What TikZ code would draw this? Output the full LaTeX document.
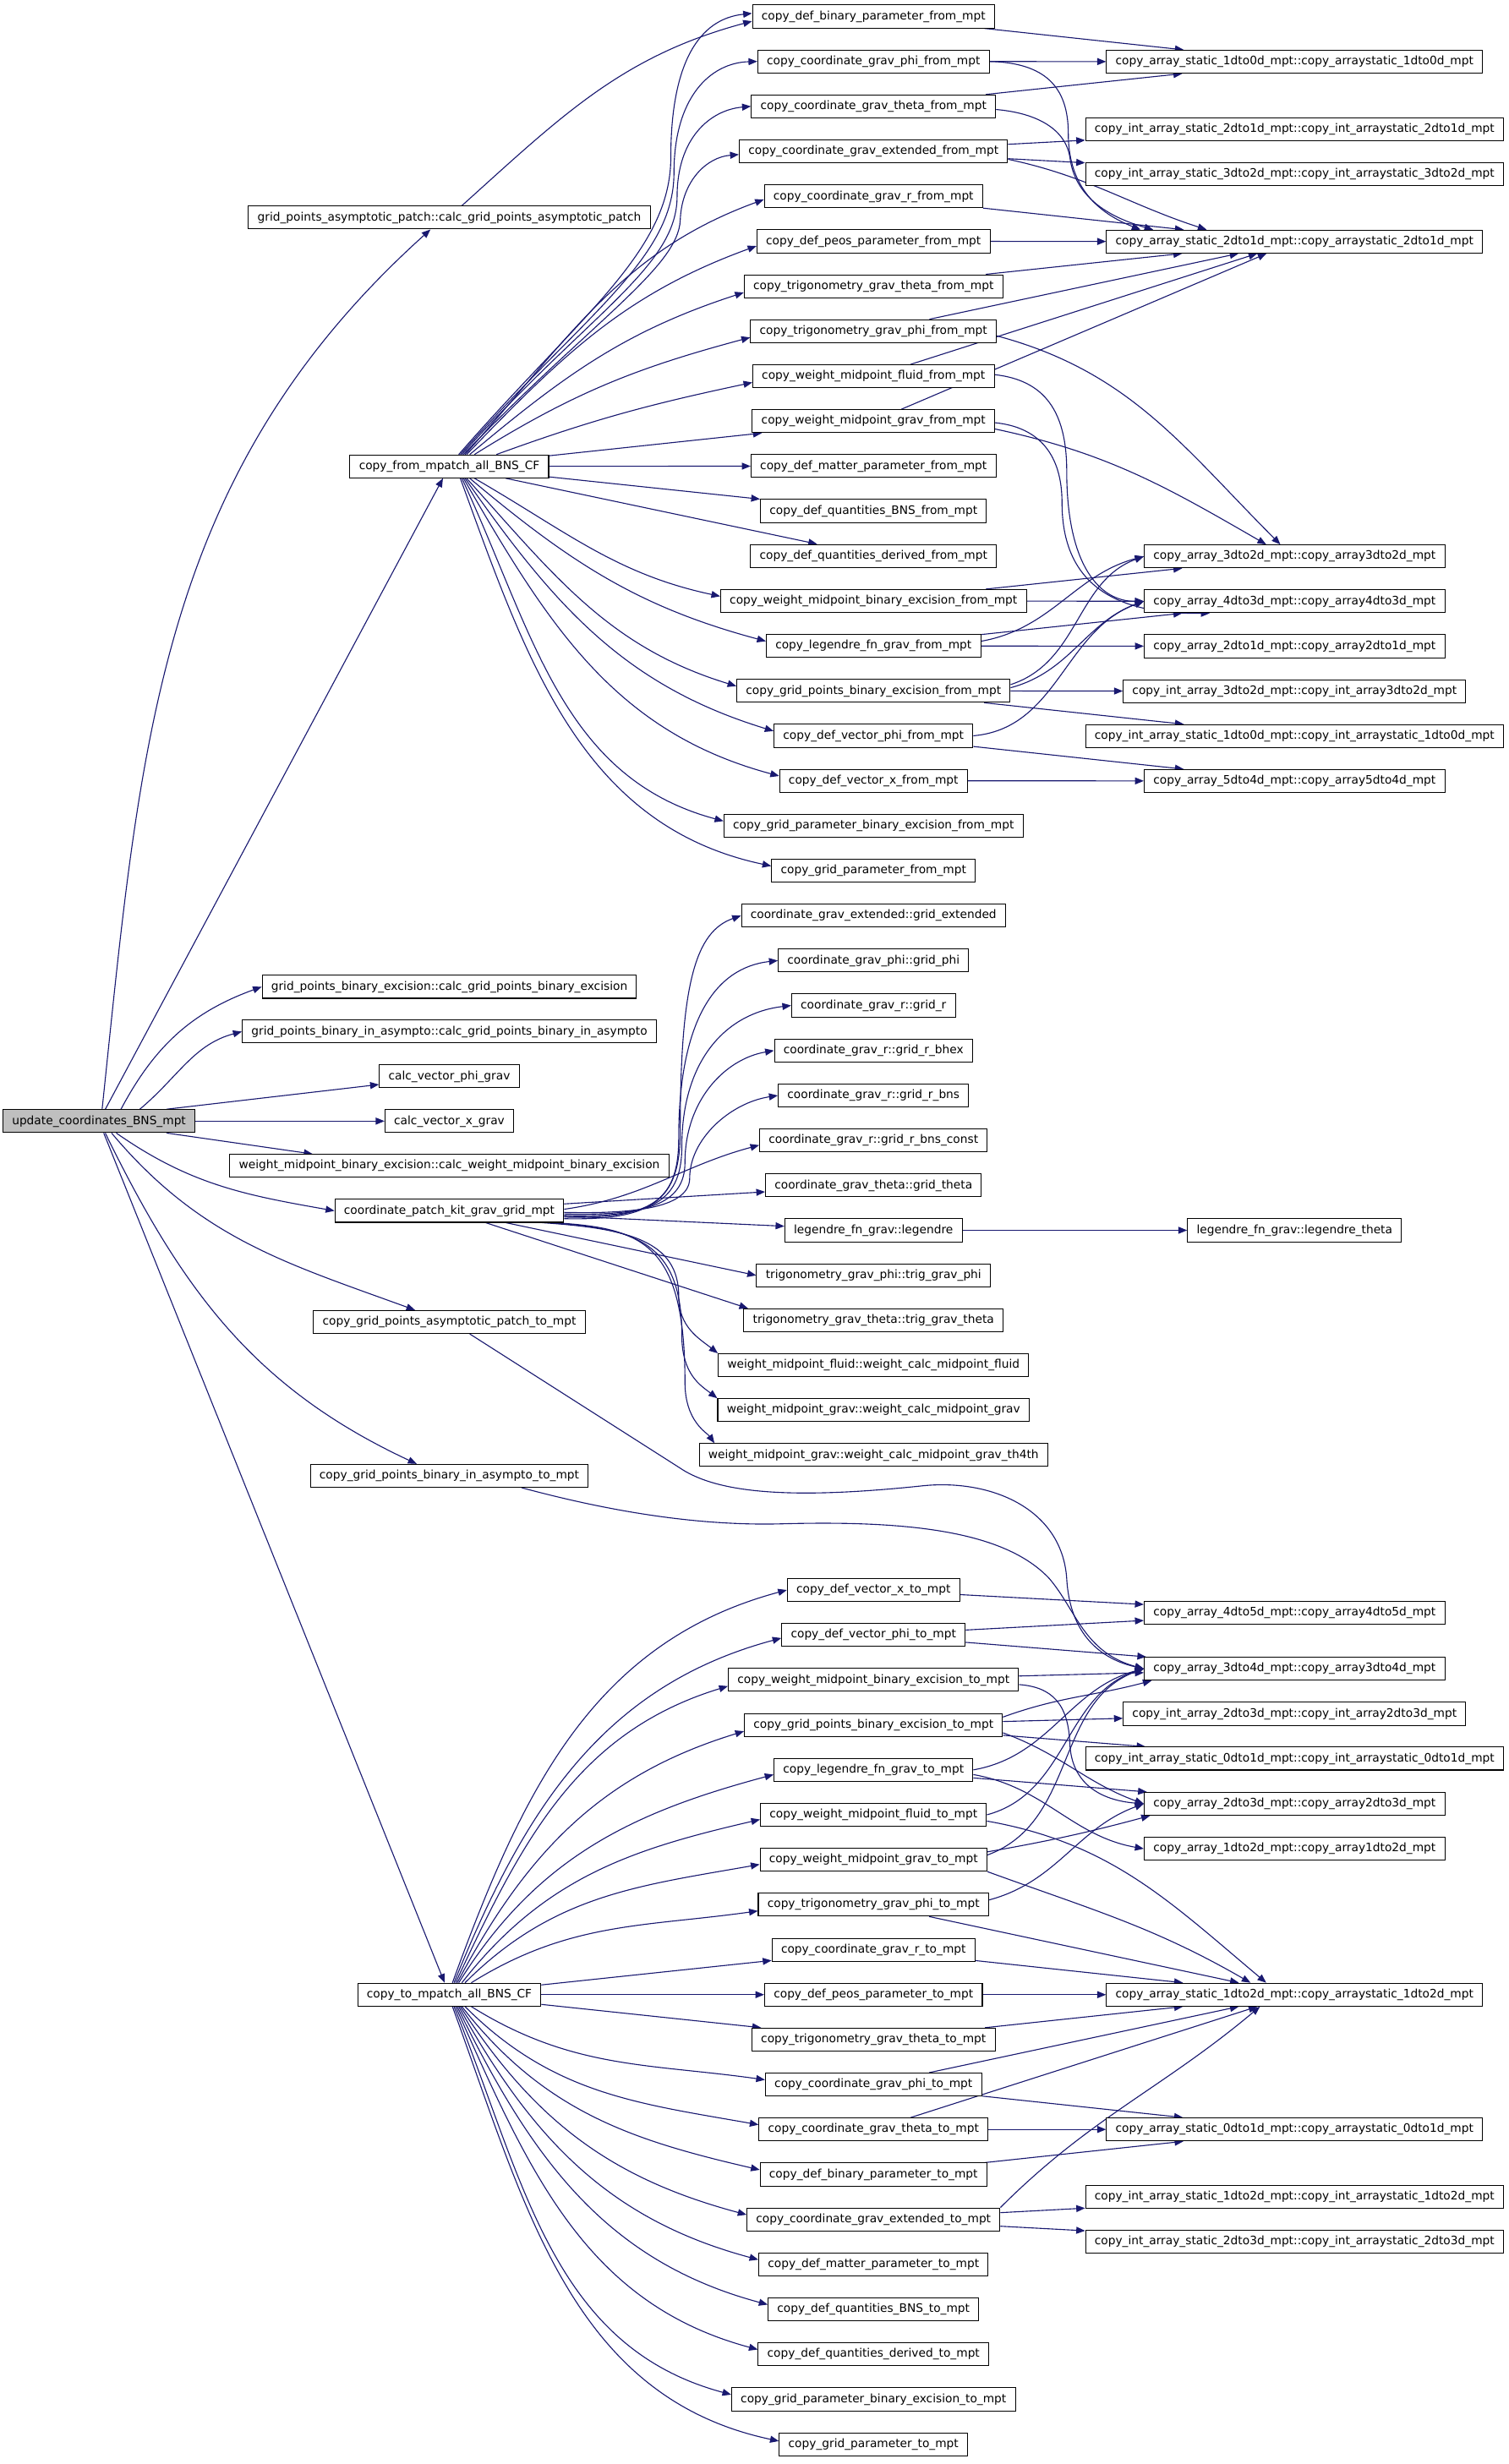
\documentclass[tikz,border=0pt]{standalone}
\usepackage{fontspec}
\setmainfont{DejaVu Sans}
\usetikzlibrary{arrows.meta}
\definecolor{edgec}{HTML}{191970}
\definecolor{rootf}{HTML}{BFBFBF}
\pgfdeclarelayer{bg}
\pgfsetlayers{bg,main}
\begin{document}
\begin{tikzpicture}[x=1pt,y=1pt,
  nd/.style={draw=black, line width=0.55pt, fill=white, inner xsep=5.8pt, inner ysep=0pt,
    minimum height=14.6pt, text height=5.6pt, text depth=1.6pt, font=\fontsize{7.4}{8}\selectfont},
  ed/.style={draw=edgec, line width=0.6pt, -{Triangle[length=5.6pt,width=4.4pt]}}]
\useasboundingbox (0,0) rectangle (960,-1568.6);

% root and column 2
\node[nd, fill=rootf] (r) at (63,-713.7) {update\_coordinates\_BNS\_mpt};
\node[nd] (asym) at (286,-138.5) {grid\_points\_asymptotic\_patch::calc\_grid\_points\_asymptotic\_patch};
\node[nd] (cf) at (286,-296.9) {copy\_from\_mpatch\_all\_BNS\_CF};
\node[nd] (gbe) at (286,-628.2) {grid\_points\_binary\_excision::calc\_grid\_points\_binary\_excision};
\node[nd] (gbia) at (286,-656.7) {grid\_points\_binary\_in\_asympto::calc\_grid\_points\_binary\_in\_asympto};
\node[nd] (cvphi) at (286,-685.2) {calc\_vector\_phi\_grav};
\node[nd] (cvx) at (286,-713.7) {calc\_vector\_x\_grav};
\node[nd] (wmbe) at (286,-742.2) {weight\_midpoint\_binary\_excision::calc\_weight\_midpoint\_binary\_excision};
\node[nd] (cpk) at (286,-770.8) {coordinate\_patch\_kit\_grav\_grid\_mpt};
\node[nd] (cga) at (286,-841.6) {copy\_grid\_points\_asymptotic\_patch\_to\_mpt};
\node[nd] (cgb) at (286,-939.5) {copy\_grid\_points\_binary\_in\_asympto\_to\_mpt};
\node[nd] (ct) at (286,-1269.8) {copy\_to\_mpatch\_all\_BNS\_CF};

% column 3 (from)
\node[nd] (f1) at (556,-10.5) {copy\_def\_binary\_parameter\_from\_mpt};
\node[nd] (f2) at (556,-39.1) {copy\_coordinate\_grav\_phi\_from\_mpt};
\node[nd] (f3) at (556,-67.7) {copy\_coordinate\_grav\_theta\_from\_mpt};
\node[nd] (f4) at (556,-96.4) {copy\_coordinate\_grav\_extended\_from\_mpt};
\node[nd] (f5) at (556,-125.0) {copy\_coordinate\_grav\_r\_from\_mpt};
\node[nd] (f6) at (556,-153.6) {copy\_def\_peos\_parameter\_from\_mpt};
\node[nd] (f7) at (556,-182.2) {copy\_trigonometry\_grav\_theta\_from\_mpt};
\node[nd] (f8) at (556,-210.8) {copy\_trigonometry\_grav\_phi\_from\_mpt};
\node[nd] (f9) at (556,-239.5) {copy\_weight\_midpoint\_fluid\_from\_mpt};
\node[nd] (f10) at (556,-268.1) {copy\_weight\_midpoint\_grav\_from\_mpt};
\node[nd] (f11) at (556,-296.7) {copy\_def\_matter\_parameter\_from\_mpt};
\node[nd] (f12) at (556,-325.3) {copy\_def\_quantities\_BNS\_from\_mpt};
\node[nd] (f13) at (556,-353.9) {copy\_def\_quantities\_derived\_from\_mpt};
\node[nd] (f14) at (556,-382.6) {copy\_weight\_midpoint\_binary\_excision\_from\_mpt};
\node[nd] (f15) at (556,-411.2) {copy\_legendre\_fn\_grav\_from\_mpt};
\node[nd] (f16) at (556,-439.8) {copy\_grid\_points\_binary\_excision\_from\_mpt};
\node[nd] (f17) at (556,-468.4) {copy\_def\_vector\_phi\_from\_mpt};
\node[nd] (f18) at (556,-497.0) {copy\_def\_vector\_x\_from\_mpt};
\node[nd] (f19) at (556,-525.7) {copy\_grid\_parameter\_binary\_excision\_from\_mpt};
\node[nd] (f20) at (556,-554.3) {copy\_grid\_parameter\_from\_mpt};

% column 3 (coordinate patch kit)
\node[nd] (g1) at (556,-582.9) {coordinate\_grav\_extended::grid\_extended};
\node[nd] (g2) at (556,-611.5) {coordinate\_grav\_phi::grid\_phi};
\node[nd] (g3) at (556,-640.1) {coordinate\_grav\_r::grid\_r};
\node[nd] (g4) at (556,-668.8) {coordinate\_grav\_r::grid\_r\_bhex};
\node[nd] (g5) at (556,-697.4) {coordinate\_grav\_r::grid\_r\_bns};
\node[nd] (g6) at (556,-726.0) {coordinate\_grav\_r::grid\_r\_bns\_const};
\node[nd] (g7) at (556,-754.6) {coordinate\_grav\_theta::grid\_theta};
\node[nd] (g8) at (556,-783.2) {legendre\_fn\_grav::legendre};
\node[nd] (g9) at (556,-811.9) {trigonometry\_grav\_phi::trig\_grav\_phi};
\node[nd] (g10) at (556,-840.5) {trigonometry\_grav\_theta::trig\_grav\_theta};
\node[nd] (g11) at (556,-869.1) {weight\_midpoint\_fluid::weight\_calc\_midpoint\_fluid};
\node[nd] (g12) at (556,-897.7) {weight\_midpoint\_grav::weight\_calc\_midpoint\_grav};
\node[nd] (g13) at (556,-926.3) {weight\_midpoint\_grav::weight\_calc\_midpoint\_grav\_th4th};

% column 3 (to)
\node[nd] (t1) at (556,-1012.2) {copy\_def\_vector\_x\_to\_mpt};
\node[nd] (t2) at (556,-1040.8) {copy\_def\_vector\_phi\_to\_mpt};
\node[nd] (t3) at (556,-1069.4) {copy\_weight\_midpoint\_binary\_excision\_to\_mpt};
\node[nd] (t4) at (556,-1098.1) {copy\_grid\_points\_binary\_excision\_to\_mpt};
\node[nd] (t5) at (556,-1126.7) {copy\_legendre\_fn\_grav\_to\_mpt};
\node[nd] (t6) at (556,-1155.3) {copy\_weight\_midpoint\_fluid\_to\_mpt};
\node[nd] (t7) at (556,-1183.9) {copy\_weight\_midpoint\_grav\_to\_mpt};
\node[nd] (t8) at (556,-1212.5) {copy\_trigonometry\_grav\_phi\_to\_mpt};
\node[nd] (t9) at (556,-1241.2) {copy\_coordinate\_grav\_r\_to\_mpt};
\node[nd] (t10) at (556,-1269.8) {copy\_def\_peos\_parameter\_to\_mpt};
\node[nd] (t11) at (556,-1298.4) {copy\_trigonometry\_grav\_theta\_to\_mpt};
\node[nd] (t12) at (556,-1327.0) {copy\_coordinate\_grav\_phi\_to\_mpt};
\node[nd] (t13) at (556,-1355.6) {copy\_coordinate\_grav\_theta\_to\_mpt};
\node[nd] (t14) at (556,-1384.3) {copy\_def\_binary\_parameter\_to\_mpt};
\node[nd] (t15) at (556,-1412.9) {copy\_coordinate\_grav\_extended\_to\_mpt};
\node[nd] (t16) at (556,-1441.5) {copy\_def\_matter\_parameter\_to\_mpt};
\node[nd] (t17) at (556,-1470.1) {copy\_def\_quantities\_BNS\_to\_mpt};
\node[nd] (t18) at (556,-1498.7) {copy\_def\_quantities\_derived\_to\_mpt};
\node[nd] (t19) at (556,-1527.4) {copy\_grid\_parameter\_binary\_excision\_to\_mpt};
\node[nd] (t20) at (556,-1556.0) {copy\_grid\_parameter\_to\_mpt};

% column 4
\node[nd] (s1d0) at (824,-39.3) {copy\_array\_static\_1dto0d\_mpt::copy\_arraystatic\_1dto0d\_mpt};
\node[nd] (is2d1) at (824,-82.2) {copy\_int\_array\_static\_2dto1d\_mpt::copy\_int\_arraystatic\_2dto1d\_mpt};
\node[nd] (is3d2) at (824,-110.8) {copy\_int\_array\_static\_3dto2d\_mpt::copy\_int\_arraystatic\_3dto2d\_mpt};
\node[nd] (s2d1) at (824,-153.8) {copy\_array\_static\_2dto1d\_mpt::copy\_arraystatic\_2dto1d\_mpt};
\node[nd] (a3d2) at (824,-354.2) {copy\_array\_3dto2d\_mpt::copy\_array3dto2d\_mpt};
\node[nd] (a4d3) at (824,-382.8) {copy\_array\_4dto3d\_mpt::copy\_array4dto3d\_mpt};
\node[nd] (a2d1) at (824,-411.4) {copy\_array\_2dto1d\_mpt::copy\_array2dto1d\_mpt};
\node[nd] (ia3d2) at (824,-440.0) {copy\_int\_array\_3dto2d\_mpt::copy\_int\_array3dto2d\_mpt};
\node[nd] (is1d0) at (824,-468.6) {copy\_int\_array\_static\_1dto0d\_mpt::copy\_int\_arraystatic\_1dto0d\_mpt};
\node[nd] (a5d4) at (824,-497.2) {copy\_array\_5dto4d\_mpt::copy\_array5dto4d\_mpt};
\node[nd] (lt) at (824,-783.2) {legendre\_fn\_grav::legendre\_theta};
\node[nd] (a45) at (824,-1026.5) {copy\_array\_4dto5d\_mpt::copy\_array4dto5d\_mpt};
\node[nd] (a34) at (824,-1062.3) {copy\_array\_3dto4d\_mpt::copy\_array3dto4d\_mpt};
\node[nd] (ia23) at (824,-1091.0) {copy\_int\_array\_2dto3d\_mpt::copy\_int\_array2dto3d\_mpt};
\node[nd] (is01) at (824,-1119.5) {copy\_int\_array\_static\_0dto1d\_mpt::copy\_int\_arraystatic\_0dto1d\_mpt};
\node[nd] (a23) at (824,-1148.3) {copy\_array\_2dto3d\_mpt::copy\_array2dto3d\_mpt};
\node[nd] (a12) at (824,-1176.9) {copy\_array\_1dto2d\_mpt::copy\_array1dto2d\_mpt};
\node[nd] (s12) at (824,-1269.8) {copy\_array\_static\_1dto2d\_mpt::copy\_arraystatic\_1dto2d\_mpt};
\node[nd] (s01) at (824,-1355.6) {copy\_array\_static\_0dto1d\_mpt::copy\_arraystatic\_0dto1d\_mpt};
\node[nd] (is12) at (824,-1398.6) {copy\_int\_array\_static\_1dto2d\_mpt::copy\_int\_arraystatic\_1dto2d\_mpt};
\node[nd] (is23) at (824,-1427.2) {copy\_int\_array\_static\_2dto3d\_mpt::copy\_int\_arraystatic\_2dto3d\_mpt};

\begin{pgfonlayer}{bg}
% root edges
\draw[ed] ([xshift=2pt]r.north) to[out=84,in=222] ([xshift=-12pt]asym.south);
\draw[ed] (r) -- (cf);
\draw[ed] ([xshift=14pt]r.north) to[out=62,in=200] (gbe.west);
\draw[ed] ([xshift=26pt]r.north) to[out=40,in=195] (gbia.west);
\draw[ed] ([xshift=43pt]r.north) -- (cvphi);
\draw[ed] (r) -- (cvx);
\draw[ed] ([xshift=43pt]r.south) -- ([xshift=53pt]wmbe.north west);
\draw[ed] ([xshift=11pt]r.south) to[out=-35,in=170] (cpk.west);
\draw[ed] ([xshift=8pt]r.south) to[out=-50,in=160] ([xshift=65pt]cga.north west);
\draw[ed] ([xshift=4pt]r.south) to[out=-64,in=155] ([xshift=68pt]cgb.north west);
\draw[ed] (r) -- (ct);

% asym
\draw[ed] ([xshift=8pt]asym.north) to[out=42,in=195] ([yshift=-3pt]f1.west);

% copy_from fan
\draw[ed] ([xshift=6pt]cf.north) .. controls (370,-200) and (427,-160) .. (427,-100) .. controls (427,-40) and (445,-12) .. ([yshift=2pt]f1.west);
\draw[ed] ([xshift=7pt]cf.north) .. controls (372,-200) and (429,-165) .. (429,-110) .. controls (429,-62) and (452,-40) .. (f2.west);
\draw[ed] ([xshift=8pt]cf.north) .. controls (374,-200) and (431,-170) .. (431,-125) .. controls (431,-88) and (452,-70) .. (f3.west);
\draw[ed] ([xshift=9pt]cf.north) .. controls (376,-205) and (432,-170) .. (433,-140) .. controls (434,-115) and (450,-100) .. ([yshift=-2pt]f4.west);
\draw[ed] ([xshift=10pt]cf.north) to[out=48,in=200] ([yshift=-2pt]f5.west);
\draw[ed] ([xshift=11pt]cf.north) to[out=46,in=200] ([yshift=-3pt]f6.west);
\draw[ed] ([xshift=13pt]cf.north) to[out=40,in=198] ([yshift=-4pt]f7.west);
\draw[ed] ([xshift=16pt]cf.north) to[out=32,in=195] ([yshift=-4pt]f8.west);
\draw[ed] ([xshift=30pt]cf.north) to[out=20,in=192] ([yshift=-4pt]f9.west);
\draw[ed] (cf) -- (f10);
\draw[ed] (cf) -- (f11);
\draw[ed] (cf) -- (f12);
\draw[ed] (cf) -- (f13);
\draw[ed] ([xshift=16pt]cf.south) to[out=-30,in=168] ([yshift=3pt]f14.west);
\draw[ed] ([xshift=13pt]cf.south) to[out=-40,in=165] ([yshift=3pt]f15.west);
\draw[ed] ([xshift=11pt]cf.south) to[out=-48,in=163] ([yshift=3pt]f16.west);
\draw[ed] ([xshift=10pt]cf.south) to[out=-55,in=163] ([yshift=3pt]f17.west);
\draw[ed] ([xshift=9pt]cf.south) to[out=-60,in=165] ([yshift=3pt]f18.west);
\draw[ed] ([xshift=8pt]cf.south) to[out=-65,in=165] ([yshift=3pt]f19.west);
\draw[ed] ([xshift=7pt]cf.south) to[out=-70,in=168] ([yshift=3pt]f20.west);

% coordinate_patch_kit fan
\draw[ed] ([yshift=-5pt]cpk.east) .. controls (415,-777) and (433,-765) .. (433,-720) .. controls (433,-625) and (443,-593) .. (g1.west);
\draw[ed] ([yshift=-4pt]cpk.east) .. controls (413,-776) and (432,-766) .. (432,-725) .. controls (432,-650) and (455,-616) .. (g2.west);
\draw[ed] ([yshift=-3pt]cpk.east) .. controls (411,-775) and (434,-768) .. (434,-730) .. controls (434,-675) and (462,-645) .. (g3.west);
\draw[ed] ([yshift=-2pt]cpk.east) .. controls (409,-774) and (436,-768) .. (436,-740) .. controls (436,-700) and (462,-674) .. (g4.west);
\draw[ed] ([yshift=-1pt]cpk.east) .. controls (407,-773) and (439,-768) .. (439,-750) .. controls (439,-725) and (465,-702) .. (g5.west);
\draw[ed] ([yshift=1pt]cpk.east) to[out=8,in=195] ([yshift=-3pt]g6.west);
\draw[ed] (cpk) -- (g7);
\draw[ed] (cpk) -- (g8);
\draw[ed] (cpk) -- (g9.west);
\draw[ed] (cpk) -- ([xshift=3pt]g10.north west);
\draw[ed] ([xshift=-14pt]cpk.south east) .. controls (400,-782) and (432,-790) .. (432,-825) .. controls (432,-845) and (445,-852) .. (g11.north west);
\draw[ed] ([xshift=-10pt]cpk.south east) .. controls (404,-782) and (434,-790) .. (434,-850) .. controls (434,-875) and (446,-882) .. (g12.north west);
\draw[ed] ([xshift=-6pt]cpk.south east) .. controls (408,-782) and (436,-790) .. (436,-880) .. controls (436,-905) and (450,-912) .. ([xshift=10pt]g13.north west);
\draw[ed] (g8) -- (lt);

% copy_to fan
\draw[ed] ([xshift=2pt]ct.north) to[out=70,in=195] (t1.west);
\draw[ed] ([xshift=3pt]ct.north) to[out=68,in=195] ([yshift=-2pt]t2.west);
\draw[ed] ([xshift=4pt]ct.north) to[out=65,in=197] ([yshift=-4pt]t3.west);
\draw[ed] ([xshift=5pt]ct.north) to[out=62,in=197] ([yshift=-4pt]t4.west);
\draw[ed] ([xshift=6pt]ct.north) to[out=58,in=195] ([yshift=-3pt]t5.west);
\draw[ed] ([xshift=8pt]ct.north) to[out=52,in=193] ([yshift=-3pt]t6.west);
\draw[ed] ([xshift=10pt]ct.north) to[out=45,in=190] ([yshift=-3pt]t7.west);
\draw[ed] ([xshift=14pt]ct.north) to[out=32,in=188] ([yshift=-4pt]t8.west);
\draw[ed] (ct) -- (t9);
\draw[ed] (ct) -- (t10);
\draw[ed] (ct) -- (t11);
\draw[ed] ([xshift=14pt]ct.south) to[out=-32,in=172] ([yshift=3pt]t12.west);
\draw[ed] ([xshift=10pt]ct.south) to[out=-45,in=170] ([yshift=3pt]t13.west);
\draw[ed] ([xshift=8pt]ct.south) to[out=-52,in=167] ([yshift=3pt]t14.west);
\draw[ed] ([xshift=7pt]ct.south) to[out=-57,in=165] ([yshift=3pt]t15.west);
\draw[ed] ([xshift=6pt]ct.south) to[out=-61,in=165] ([yshift=3pt]t16.west);
\draw[ed] ([xshift=5pt]ct.south) to[out=-64,in=165] ([yshift=3pt]t17.west);
\draw[ed] ([xshift=4pt]ct.south) to[out=-66,in=165] ([yshift=3pt]t18.west);
\draw[ed] ([xshift=3pt]ct.south) to[out=-68,in=165] ([yshift=3pt]t19.west);
\draw[ed] ([xshift=2pt]ct.south) to[out=-70,in=168] ([yshift=2pt]t20.west);

% asympto copies
\draw[ed] ([xshift=13pt]cga.south) -- (432,-934) .. controls (455,-950) and (500,-955) .. (586,-946) .. controls (630,-941) and (676,-960) .. (679,-1005) .. controls (681,-1040) and (700,-1056) .. (a34.west);
\draw[ed] ([xshift=46pt]cgb.south) .. controls (380,-960) and (440,-972) .. (500,-970) .. controls (580,-968) and (640,-975) .. (668,-1005) .. controls (685,-1025) and (690,-1052) .. (a34.west);

% top cluster col3 -> col4
\draw[ed] (f1) -- (s1d0);
\draw[ed] (f2) -- (s1d0);
\draw[ed] (f3) -- (s1d0);
\draw[ed] (f2.east) .. controls (665,-40) and (680,-55) .. (680,-85) .. controls (680,-120) and (700,-136) .. ([xshift=22pt]s2d1.north west);
\draw[ed] ([yshift=-2pt]f3.east) .. controls (660,-72) and (678,-82) .. (681,-100) .. controls (684,-125) and (705,-138) .. ([xshift=30pt]s2d1.north west);
\draw[ed] (f4) -- (is2d1);
\draw[ed] (f4) -- (is3d2);
\draw[ed] ([yshift=-5pt]f4.east) to[out=-12,in=162] ([xshift=64pt]s2d1.north west);
\draw[ed] (f5) -- (s2d1);
\draw[ed] (f6) -- (s2d1);
\draw[ed] (f7) -- (s2d1);
\draw[ed] (f8) -- (s2d1);
\draw[ed] (f9) -- (s2d1);
\draw[ed] (f10) -- (s2d1);
\draw[ed] ([yshift=-3pt]f8.east) to[out=-15,in=135] ([xshift=-9pt]a3d2.north);
\draw[ed] ([yshift=-5pt]f10.east) to[out=-12,in=150] ([xshift=-18pt]a3d2.north);
\draw[ed] ([yshift=1pt]f9.east) .. controls (665,-242) and (679,-262) .. (679,-300) .. controls (679,-360) and (700,-383) .. (a4d3.west);
\draw[ed] ([yshift=-1pt]f10.east) .. controls (662,-272) and (676,-290) .. (676,-320) .. controls (676,-378) and (718,-391) .. ([xshift=42pt]a4d3.south west);
\draw[ed] (f14) -- (a3d2);
\draw[ed] (f14) -- (a4d3);
\draw[ed] (f15) -- (a4d3);
\draw[ed] (f15) -- (a2d1);
\draw[ed] ([yshift=3pt]f15.east) to[out=10,in=195] (a3d2.west);
\draw[ed] ([yshift=4pt]f16.east) to[out=18,in=200] (a3d2.west);
\draw[ed] ([yshift=2pt]f16.east) to[out=15,in=200] (a4d3.west);
\draw[ed] (f16) -- (ia3d2);
\draw[ed] (f16) -- (is1d0);
\draw[ed] (f17.east) to[out=5,in=200] (a4d3.west);
\draw[ed] (f17) -- (a5d4);
\draw[ed] (f18) -- (a5d4);

% bottom cluster col3 -> col4
\draw[ed] (t1) -- (a45);
\draw[ed] (t2) -- (a45);
\draw[ed] (t2) -- (a34);
\draw[ed] (t3) -- (a34);
\draw[ed] ([yshift=-3pt]t3.east) .. controls (670,-1074) and (680,-1085) .. (681,-1110) .. controls (682,-1135) and (700,-1146) .. (a23.west);
\draw[ed] ([yshift=5pt]t4.east) to[out=20,in=195] ([xshift=5pt]a34.south west);
\draw[ed] (t4) -- (ia23);
\draw[ed] (t4) -- (is01);
\draw[ed] ([yshift=-5pt]t4.east) to[out=-20,in=160] (a23.west);
\draw[ed] (t5.east) to[out=10,in=195] (a34.west);
\draw[ed] (t5) -- (a23);
\draw[ed] ([yshift=-3pt]t5.east) to[out=-10,in=170] (a12.west);
\draw[ed] (t6.east) to[out=15,in=198] (a34.west);
\draw[ed] ([yshift=-4pt]t6.east) to[out=-10,in=140] ([xshift=-18pt]s12.north);
\draw[ed] ([yshift=3pt]t7.east) to[out=20,in=200] (a34.west);
\draw[ed] ([yshift=5pt]t7.east) to[out=10,in=195] ([xshift=4pt]a23.south west);
\draw[ed] (t7.south east) to[out=-20,in=150] ([xshift=-28pt]s12.north);
\draw[ed] ([yshift=3pt]t8.east) to[out=15,in=200] (a23.west);
\draw[ed] (t8) -- (s12);
\draw[ed] (t9) -- (s12);
\draw[ed] (t10) -- (s12);
\draw[ed] (t11) -- (s12);
\draw[ed] (t12) -- (s12);
\draw[ed] (t12) -- (s01);
\draw[ed] (t13) -- (s12);
\draw[ed] (t13) -- (s01);
\draw[ed] (t14) -- (s01);
\draw[ed] (t15.north east) to[out=45,in=220] ([xshift=-22pt]s12.south);
\draw[ed] (t15) -- (is12);
\draw[ed] (t15) -- (is23);
\end{pgfonlayer}
\end{tikzpicture}
\end{document}
